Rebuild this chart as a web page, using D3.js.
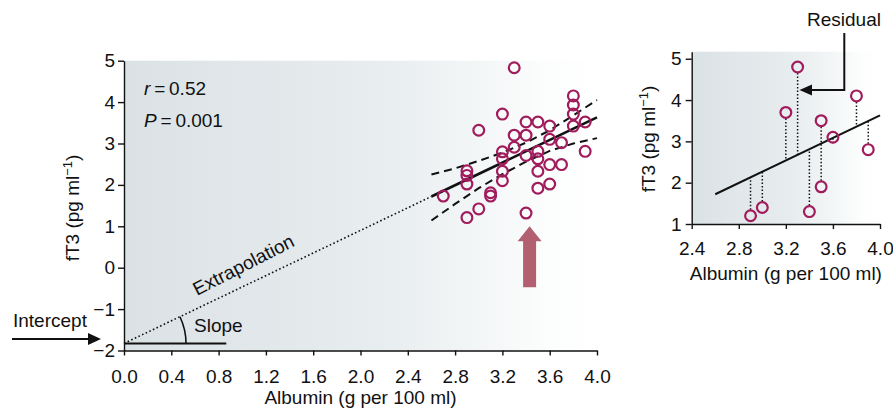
<!DOCTYPE html>
<html>
<head>
<meta charset="utf-8">
<script src="https://cdn.jsdelivr.net/npm/d3@7"></script>
<style>
  body { margin: 0; background: #fff; }
  svg text { font-family: "Liberation Sans", Arial, Helvetica, sans-serif; fill: #111; }
</style>
</head>
<body>
<svg id="chart" width="893" height="412"></svg>
<script>
// values
var albumin = [3.3, 3.2, 3.0, 3.8, 3.8, 3.8, 3.8, 3.9, 3.4, 3.5, 3.6, 3.3, 3.4, 3.6, 3.7,
               3.2, 3.3, 3.5, 3.2, 3.4, 3.5, 3.9, 3.6, 3.7, 2.9, 2.9, 3.2, 3.5, 2.9, 3.2,
               3.6, 3.5, 2.7, 3.1, 3.1, 3.0, 2.9, 3.4];
var fT3 = [4.83, 3.71, 3.32, 4.15, 3.93, 3.71, 3.42, 3.52, 3.52, 3.52, 3.42, 3.20, 3.20, 3.10, 3.02,
           2.80, 2.91, 2.81, 2.63, 2.71, 2.63, 2.81, 2.49, 2.49, 2.34, 2.23, 2.33, 2.33, 2.02, 2.10,
           2.02, 1.92, 1.73, 1.81, 1.73, 1.42, 1.21, 1.32];

// regression line: intercept, start of data range, end
var fitX = [0, 2.6, 4.0];
var fitY = [-1.83, 1.72, 3.63];
var slopeBaseEnd = 0.865;

// 95% band (dashed)
var bandX = [2.6, 2.8, 3.0, 3.2, 3.4, 3.6, 3.8, 4.0];
var bandUpper = [2.25, 2.40, 2.58, 2.78, 3.02, 3.32, 3.68, 4.05];
var bandLower = [1.14, 1.54, 1.92, 2.26, 2.56, 2.82, 3.00, 3.13];

// outlier arrow (x, tip, tail)
var arrowX = 3.43, arrowTop = 1.0, arrowBottom = -0.47;

// small panel subset with residuals
var subAlbumin = [2.9, 3.0, 3.2, 3.3, 3.4, 3.5, 3.5, 3.6, 3.8, 3.9];
var subFT3 = [1.2, 1.4, 3.7, 4.8, 1.3, 3.5, 1.9, 3.1, 4.1, 2.8];

var leftXTicks = [0, 0.4, 0.8, 1.2, 1.6, 2.0, 2.4, 2.8, 3.2, 3.6, 4.0];
var leftYTicks = [-2, -1, 0, 1, 2, 3, 4, 5];
var rightXTicks = [2.4, 2.8, 3.2, 3.6, 4.0];
var rightYTicks = [1, 2, 3, 4, 5];

var pointColor = "#a01c5c";
var fs = 19;

var svg = d3.select("#chart");

var grad = svg.append("defs").append("linearGradient")
    .attr("id", "bg").attr("x1", 0).attr("x2", 1).attr("y1", 0).attr("y2", 0);
grad.append("stop").attr("offset", 0).attr("stop-color", "#dbe2e5");
grad.append("stop").attr("offset", 0.55).attr("stop-color", "#e8edef");
grad.append("stop").attr("offset", 0.9).attr("stop-color", "#fcfdfd");
grad.append("stop").attr("offset", 1).attr("stop-color", "#ffffff");

function fitAt(x) {
  return fitY[1] + (x - fitX[1]) * (fitY[2] - fitY[1]) / (fitX[2] - fitX[1]);
}

// ---------- left panel ----------
var x0 = d3.scaleLinear().domain([0, 4]).range([124, 597]);
var y0 = d3.scaleLinear().domain([-2, 5]).range([350.5, 60.7]);

svg.append("rect")
    .attr("x", x0(0)).attr("y", y0(5))
    .attr("width", x0(4) - x0(0)).attr("height", y0(-2) - y0(5))
    .attr("fill", "url(#bg)");

var line0 = d3.line().x(function(d) { return x0(d[0]); }).y(function(d) { return y0(d[1]); });

// extrapolation (dotted)
svg.append("path")
    .attr("d", line0([[fitX[0], fitY[0]], [fitX[1], fitY[1]]]))
    .attr("stroke", "#111").attr("stroke-width", 1.6)
    .attr("stroke-dasharray", "1.6,2.4").attr("fill", "none");

// horizontal base for slope
svg.append("path")
    .attr("d", line0([[0, fitY[0]], [slopeBaseEnd, fitY[0]]]))
    .attr("stroke", "#111").attr("stroke-width", 2).attr("fill", "none");

var cx = x0(fitX[0]), cy = y0(fitY[0]);
var ang = Math.atan2(y0(fitY[0]) - y0(fitY[1]), x0(fitX[1]) - x0(fitX[0]));
var rArc = 62;
svg.append("path")
    .attr("d", "M" + (cx + rArc) + "," + cy + " A" + rArc + "," + rArc + " 0 0 0 " +
        (cx + rArc * Math.cos(ang)) + "," + (cy - rArc * Math.sin(ang)))
    .attr("stroke", "#111").attr("stroke-width", 1.6).attr("fill", "none");

svg.append("text").attr("x", 194).attr("y", 332).attr("font-size", fs).text("Slope");

svg.append("text")
    .attr("transform", "translate(197,296) rotate(" + (-ang * 180 / Math.PI - 1.5) + ")")
    .attr("font-size", fs).text("Extrapolation");

// confidence band
svg.append("path")
    .attr("d", line0(d3.zip(bandX, bandUpper)))
    .attr("stroke", "#111").attr("stroke-width", 2).attr("stroke-dasharray", "8,5").attr("fill", "none");
svg.append("path")
    .attr("d", line0(d3.zip(bandX, bandLower)))
    .attr("stroke", "#111").attr("stroke-width", 2).attr("stroke-dasharray", "8,5").attr("fill", "none");

// regression line
svg.append("path")
    .attr("d", line0([[fitX[1], fitY[1]], [fitX[2], fitY[2]]]))
    .attr("stroke", "#111").attr("stroke-width", 2.6).attr("fill", "none");

svg.append("g").selectAll("circle")
    .data(d3.zip(albumin, fT3))
    .enter().append("circle")
    .attr("cx", function(d) { return x0(d[0]); })
    .attr("cy", function(d) { return y0(d[1]); })
    .attr("r", 5.4)
    .attr("fill", "none")
    .attr("stroke", pointColor)
    .attr("stroke-width", 2.2);

// big arrow
var ax = x0(arrowX), at = y0(arrowTop), ab = y0(arrowBottom);
svg.append("path")
    .attr("d", "M" + ax + "," + at +
        " L" + (ax + 12) + "," + (at + 15) + " L" + (ax + 6.5) + "," + (at + 15) +
        " L" + (ax + 6.5) + "," + ab + " L" + (ax - 6.5) + "," + ab +
        " L" + (ax - 6.5) + "," + (at + 15) + " L" + (ax - 12) + "," + (at + 15) + "Z")
    .attr("fill", "#b26070");

// stats
var st = svg.append("text").attr("x", 144).attr("y", 95).attr("font-size", fs);
st.append("tspan").attr("font-style", "italic").text("r");
st.append("tspan").text("\u2009=\u20090.52");
var sp = svg.append("text").attr("x", 144).attr("y", 127).attr("font-size", fs);
sp.append("tspan").attr("font-style", "italic").text("P");
sp.append("tspan").text("\u2009=\u20090.001");

// intercept label + arrow
svg.append("text").attr("x", 13).attr("y", 327).attr("font-size", fs).text("Intercept");
svg.append("path").attr("d", "M12,339 H90").attr("stroke", "#111").attr("stroke-width", 2);
svg.append("path").attr("d", "M101,339 L88,333 L88,345 Z").attr("fill", "#111");

// axes
function styleAxis(g) {
  g.selectAll("text").attr("font-size", fs).attr("fill", "#111");
  g.selectAll("path,line").attr("stroke", "#111").attr("stroke-width", 1.4);
}

svg.append("g").attr("transform", "translate(0," + y0(-2) + ")")
    .call(d3.axisBottom(x0).tickValues(leftXTicks).tickFormat(d3.format(".1f"))
        .tickSize(5).tickSizeOuter(0).tickPadding(14))
    .call(styleAxis);
svg.append("g").attr("transform", "translate(" + x0(0) + ",0)")
    .call(d3.axisLeft(y0).tickValues(leftYTicks).tickFormat(d3.format("d"))
        .tickSize(6).tickSizeOuter(0).tickPadding(3))
    .call(styleAxis);

svg.append("text").attr("x", (x0(0) + x0(4)) / 2).attr("y", 404)
    .attr("text-anchor", "middle").attr("font-size", fs).text("Albumin (g per 100 ml)");

function yTitle(x, y) {
  var t = svg.append("text").attr("transform", "translate(" + x + "," + y + ") rotate(-90)")
      .attr("text-anchor", "middle").attr("font-size", fs);
  t.append("tspan").text("fT3 (pg ml");
  t.append("tspan").attr("dy", -7).attr("font-size", 13).text("\u22121");
  t.append("tspan").attr("dy", 7).text(")");
}
yTitle(79, 208);

// ---------- right panel ----------
var x1 = d3.scaleLinear().domain([2.4, 4.0]).range([691.7, 880]);
var y1 = d3.scaleLinear().domain([1, 5.17]).range([224, 51.7]);

svg.append("rect")
    .attr("x", x1(2.4)).attr("y", y1(5.17))
    .attr("width", x1(4.0) - x1(2.4)).attr("height", y1(1) - y1(5.17))
    .attr("fill", "url(#bg)");

var line1 = d3.line().x(function(d) { return x1(d[0]); }).y(function(d) { return y1(d[1]); });

var subPts = d3.zip(subAlbumin, subFT3);

svg.append("g").selectAll("line")
    .data(subPts)
    .enter().append("line")
    .attr("x1", function(d) { return x1(d[0]); })
    .attr("x2", function(d) { return x1(d[0]); })
    .attr("y1", function(d) { return y1(d[1]) + (d[1] > fitAt(d[0]) ? 6 : -6); })
    .attr("y2", function(d) { return y1(fitAt(d[0])); })
    .attr("stroke", "#111").attr("stroke-width", 1.5).attr("stroke-dasharray", "1.5,2");

svg.append("path")
    .attr("d", line1([[fitX[1], fitY[1]], [fitX[2], fitY[2]]]))
    .attr("stroke", "#111").attr("stroke-width", 2).attr("fill", "none");

svg.append("g").selectAll("circle")
    .data(subPts)
    .enter().append("circle")
    .attr("cx", function(d) { return x1(d[0]); })
    .attr("cy", function(d) { return y1(d[1]); })
    .attr("r", 5.4)
    .attr("fill", "none")
    .attr("stroke", pointColor)
    .attr("stroke-width", 2.2);

svg.append("g").attr("transform", "translate(0," + y1(1) + ")")
    .call(d3.axisBottom(x1).tickValues(rightXTicks).tickFormat(d3.format(".1f"))
        .tickSize(5).tickSizeOuter(0).tickPadding(13))
    .call(styleAxis);
svg.append("g").attr("transform", "translate(" + x1(2.4) + ",0)")
    .call(d3.axisLeft(y1).tickValues(rightYTicks).tickFormat(d3.format("d"))
        .tickSize(6).tickSizeOuter(0).tickPadding(4))
    .call(styleAxis);

svg.append("text").attr("x", (x1(2.4) + x1(4.0)) / 2).attr("y", 280)
    .attr("text-anchor", "middle").attr("font-size", fs).text("Albumin (g per 100 ml)");
yTitle(655, 139);

// residual label + arrow
svg.append("text").attr("x", 807).attr("y", 26).attr("font-size", fs).text("Residual");
svg.append("path").attr("d", "M844.3,33 V90 H810").attr("stroke", "#111")
    .attr("stroke-width", 2).attr("fill", "none");
svg.append("path").attr("d", "M799.5,90 L812,84.5 L812,95.5 Z").attr("fill", "#111");
</script>
</body>
</html>
